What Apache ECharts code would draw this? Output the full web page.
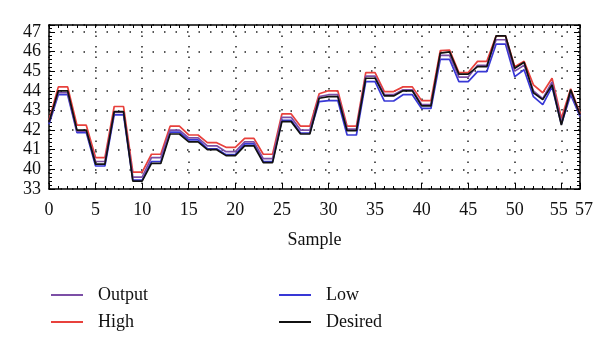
<!DOCTYPE html>
<html>
<head>
<meta charset="utf-8">
<script src="https://cdn.jsdelivr.net/npm/echarts@6/dist/echarts.min.js"></script>
<style>
  html, body { margin: 0; padding: 0; background: #fff; }
  #chart { width: 600px; height: 351px; }
</style>
</head>
<body>
<div id="chart"></div>
<script>
// sample index 0..57
var samples = [];
for (var i = 0; i <= 57; i++) samples.push(i);

var desired = [42.4, 44.0, 44.0, 42.0, 42.0, 40.27, 40.27, 42.94, 42.94, 39.4, 39.4, 40.3, 40.3, 41.8, 41.8,
  41.4, 41.4, 41.0, 41.0, 40.7, 40.7, 41.2, 41.2, 40.34, 40.34, 42.43, 42.43, 41.8, 41.8,
  43.62, 43.7, 43.7, 41.97, 41.97, 44.64, 44.64, 43.74, 43.74, 44.0, 44.0, 43.23, 43.23,
  45.92, 45.98, 44.85, 44.85, 45.23, 45.23, 46.8, 46.8, 45.15, 45.45, 43.9, 43.55, 44.3, 42.26, 44.05, 42.77];
var high = [42.5, 44.2, 44.2, 42.25, 42.25, 40.6, 40.6, 43.2, 43.2, 39.86, 39.86, 40.77, 40.77, 42.2, 42.2,
  41.75, 41.75, 41.36, 41.36, 41.12, 41.12, 41.58, 41.58, 40.77, 40.77, 42.82, 42.82, 42.2, 42.2,
  43.85, 44.0, 44.0, 42.2, 42.2, 44.93, 44.93, 43.96, 43.96, 44.2, 44.2, 43.5, 43.5,
  46.05, 46.07, 44.93, 44.93, 45.5, 45.5, 46.8, 46.8, 45.23, 45.5, 44.3, 43.9, 44.64, 42.6, 44.1, 42.85];
var low = [42.3, 43.8, 43.8, 41.87, 41.87, 40.17, 40.17, 42.77, 42.77, 39.45, 39.45, 40.4, 40.4, 41.9, 41.9,
  41.5, 41.5, 41.05, 41.05, 40.75, 40.75, 41.3, 41.3, 40.4, 40.4, 42.5, 42.5, 41.85, 41.85,
  43.45, 43.5, 43.5, 41.75, 41.75, 44.47, 44.47, 43.48, 43.48, 43.8, 43.8, 43.1, 43.1,
  45.6, 45.6, 44.47, 44.47, 44.98, 44.98, 46.38, 46.38, 44.72, 45.07, 43.7, 43.3, 44.2, 42.3, 43.8, 42.7];
var output = [42.4, 43.9, 43.9, 41.95, 41.95, 40.4, 40.4, 42.9, 42.9, 39.6, 39.6, 40.6, 40.6, 42.0, 42.0,
  41.6, 41.6, 41.2, 41.2, 40.9, 40.9, 41.4, 41.4, 40.55, 40.55, 42.65, 42.65, 42.0, 42.0,
  43.7, 43.8, 43.8, 42.05, 42.05, 44.75, 44.75, 43.8, 43.8, 44.05, 44.05, 43.3, 43.3,
  45.8, 45.8, 44.7, 44.7, 45.3, 45.3, 46.6, 46.6, 45.0, 45.3, 44.0, 43.6, 44.45, 42.4, 43.95, 42.75];

var font = 'Liberation Serif';

function pairs(arr) {
  return samples.map(function (s, k) { return [s, arr[k]]; });
}

function mkSeries(name, arr, color) {
  return {
    name: name,
    type: 'line',
    symbol: 'none',
    data: pairs(arr),
    lineStyle: { color: color, width: 1.7 },
    itemStyle: { color: color },
    z: 3
  };
}

var chart = echarts.init(document.getElementById('chart'));
var legendStyle = {
  orient: 'vertical',
  icon: 'rect',
  itemWidth: 32,
  itemHeight: 2,
  itemGap: 9,
  textStyle: { fontFamily: font, fontSize: 18, color: '#111', padding: [0, 0, 0, 10] }
};

chart.setOption({
  animation: false,
  grid: { left: 49, right: 20, top: 25, bottom: 162 },
  legend: [
    Object.assign({ data: ['Output', 'High'], left: 46, top: 281 }, legendStyle),
    Object.assign({ data: ['Low', 'Desired'], left: 274, top: 281 }, legendStyle)
  ],
  xAxis: [{
    type: 'value', min: 0, max: 57, interval: 1,
    name: 'Sample', nameLocation: 'middle', nameGap: 42,
    nameTextStyle: { fontFamily: font, fontSize: 18, color: '#111' },
    axisLine: { show: true, onZero: false, lineStyle: { color: '#000', width: 1.5 } },
    axisTick: { inside: true, length: 3, lineStyle: { color: '#000' } },
    axisLabel: {
      fontFamily: font, fontSize: 18, color: '#111', margin: 12, hideOverlap: false,
      formatter: function (v) {
        if (v === 55) return '{l|55}';
        if (v === 57) return '{r|57}';
        return v % 5 === 0 ? String(v) : '';
      },
      rich: {
        l: { fontFamily: font, fontSize: 18, color: '#111', padding: [0, 5, 0, 0] },
        r: { fontFamily: font, fontSize: 18, color: '#111', padding: [0, 0, 0, 8] }
      }
    },
    splitLine: { show: false }
  }, {
    type: 'value', min: 0, max: 57, interval: 5, position: 'bottom',
    axisLine: { show: false },
    axisTick: { inside: true, length: 6, lineStyle: { color: '#000' } },
    axisLabel: { show: false },
    splitLine: { show: true, lineStyle: { color: '#222', type: [1.5, 9], width: 1.5 } }
  }, {
    type: 'value', min: 0, max: 57, interval: 1, position: 'top',
    axisLine: { show: true, onZero: false, lineStyle: { color: '#000', width: 1.5 } },
    axisTick: { inside: true, length: 3, lineStyle: { color: '#000' } },
    axisLabel: { show: false },
    splitLine: { show: false }
  }],
  yAxis: [{
    type: 'value', min: 39, max: 47.35, interval: 1,
    axisLine: { show: true, onZero: false, lineStyle: { color: '#000', width: 1.5 } },
    axisTick: { inside: true, length: 6, lineStyle: { color: '#000' } },
    minorTick: { show: true, splitNumber: 5, length: 3, lineStyle: { color: '#000' } },
    axisLabel: {
      fontFamily: font, fontSize: 18, color: '#111', margin: 8,
      formatter: function (v) {
        if (Math.abs(v - Math.round(v)) > 1e-6) return '';
        return v === 39 ? '33' : String(v);
      }
    },
    splitLine: { show: true, lineStyle: { color: '#222', type: [1.5, 10], width: 1.5 } }
  }, {
    type: 'value', min: 39, max: 47.35, interval: 1, position: 'right',
    axisLine: { show: true, onZero: false, lineStyle: { color: '#000', width: 1.5 } },
    axisTick: { inside: true, length: 6, lineStyle: { color: '#000' } },
    minorTick: { show: true, splitNumber: 5, length: 3, lineStyle: { color: '#000' } },
    axisLabel: { show: false },
    splitLine: { show: false }
  }],
  series: [
    mkSeries('High', high, '#e8413c'),
    mkSeries('Low', low, '#3838d6'),
    mkSeries('Output', output, '#7c4fa6'),
    mkSeries('Desired', desired, '#111111')
  ]
});
</script>
</body>
</html>
